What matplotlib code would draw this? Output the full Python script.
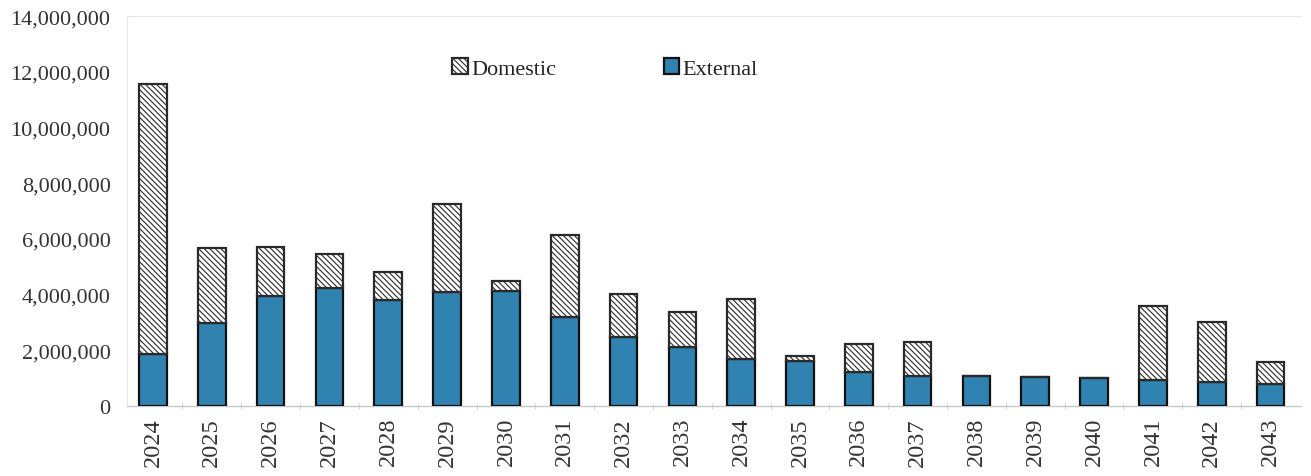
import numpy as np
import matplotlib
matplotlib.use("Agg")
import matplotlib.pyplot as plt
from matplotlib.ticker import FuncFormatter, FixedLocator

years = [str(y) for y in range(2024, 2044)]
external = [1850000, 2980000, 3930000, 4230000, 3810000, 4080000, 4110000, 3210000,
            2460000, 2130000, 1680000, 1600000, 1230000, 1060000, 1060000, 1030000,
            990000, 920000, 860000, 800000]
total = [11550000, 5660000, 5710000, 5450000, 4800000, 7270000, 4470000, 6140000,
         4030000, 3380000, 3850000, 1780000, 2210000, 2290000, 1060000, 1030000,
         990000, 3600000, 3000000, 1570000]
domestic = [t - e for t, e in zip(total, external)]

plt.rcParams['font.family'] = ['Liberation Serif', 'DejaVu Serif']
plt.rcParams['hatch.linewidth'] = 0.8

fig = plt.figure(figsize=(13.11, 4.77), dpi=100)
ax = fig.add_axes([0.097, 0.147, 0.895, 0.817])

x = np.arange(len(years))
w = 0.47
blue = '#3083b0'
ax.bar(x, external, w, color=blue, edgecolor='#111111', linewidth=1.6,
       label='External', zorder=3)
ax.bar(x, domestic, w, bottom=external, color='white', edgecolor='#2a2a2a',
       hatch='\\\\\\\\\\\\', linewidth=1.6, label='Domestic', zorder=3)

ax.set_xlim(-0.44, len(years) - 0.49)
ax.set_ylim(0, 14000000)
ax.set_yticks(np.arange(0, 14000001, 2000000))
ax.yaxis.set_major_formatter(FuncFormatter(lambda v, p: f'{int(v):,}'))
ax.tick_params(axis='y', length=0, pad=12, labelsize=16, colors='#333333')

ax.set_xticks(x)
ax.set_xticklabels(years, rotation=90, fontsize=17.5, color='#333333')
ax.tick_params(axis='x', which='major', length=0, pad=8)
ax.xaxis.set_minor_locator(FixedLocator(x[:-1] + 0.5))
ax.tick_params(axis='x', which='minor', length=4, color='#cccccc', direction='inout')

for side in ['left', 'top', 'right']:
    ax.spines[side].set_color('#e6e6e6')
    ax.spines[side].set_linewidth(0.8)
ax.spines['right'].set_visible(False)
ax.spines['bottom'].set_color('#c8c8c8')
ax.spines['bottom'].set_linewidth(1.0)

handles, labels = ax.get_legend_handles_labels()
ax.legend(handles[::-1], labels[::-1], ncol=2, frameon=False, fontsize=16,
          loc='center left', bbox_to_anchor=(0.26, 0.866),
          handlelength=0.7, handleheight=0.7, handletextpad=0.15,
          columnspacing=4.85, labelcolor='#222222')

fig.savefig('out.png', dpi=100)
